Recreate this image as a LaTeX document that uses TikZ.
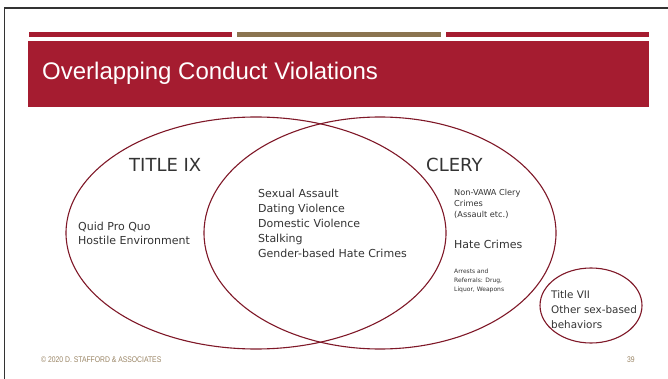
\documentclass[tikz,border=0pt]{standalone}
\usepackage{fontspec}
\setmainfont{DejaVu Sans}
\newfontfamily\headfont{Liberation Sans}
\usepackage{tikz}
\usetikzlibrary{shapes.geometric}
\definecolor{crimson}{HTML}{A51C30}
\definecolor{tanbar}{HTML}{8B7450}
\definecolor{ringred}{HTML}{7F1828}
\definecolor{inkgray}{HTML}{333333}
\definecolor{foottan}{HTML}{9A8565}
\tikzset{
  ring/.style={draw=ringred, line width=1.1pt, ellipse, inner sep=0pt},
  lbl/.style={anchor=base west, inner sep=0pt, text=inkgray, align=left},
}

\begin{document}
\begin{tikzpicture}[x=1pt, y=-1pt]
    \useasboundingbox (0,0) rectangle (668,379);
    % frame and header
    \draw [draw=black!80, line width=1.5pt] (4.5,379) -- (4.5,8) -- (668,8);
    \fill [crimson] (29,32) rectangle (232,37);
    \fill [tanbar] (237,32) rectangle (441,37);
    \fill [crimson] (446,32) rectangle (649,37);
    \fill [crimson] (28,41) rectangle (649,107);
    \node [anchor=base west, inner sep=0pt, text=white] (head) at (42,80)
        {\headfont\fontsize{24}{28}\selectfont Overlapping Conduct Violations};

    % the three circles
    \node [ring, minimum width=380pt, minimum height=232pt] (t9) at (256,233) {};
    \node [ring, minimum width=352pt, minimum height=232pt] (clery) at (380,233) {};
    \node [ring, minimum width=102pt, minimum height=75pt] (t7) at (591,305.5) {};

    \node [lbl, font=\fontsize{18}{22}\selectfont] (t9name) at (129,172) {TITLE IX};
    \node [lbl, font=\fontsize{18}{22}\selectfont] (clname) at (426,172) {CLERY};

    % multi-line labels sit on the baseline of their last line
    \node [lbl, font=\fontsize{11}{14}\selectfont] (quid) at (78,244)
        {Quid Pro Quo\\Hostile Environment};
    \node [lbl, font=\fontsize{11}{15}\selectfont] (vawa) at (258,257)
        {Sexual Assault\\Dating Violence\\Domestic Violence\\Stalking\\Gender-based Hate Crimes};
    \node [lbl, font=\fontsize{8.2}{11}\selectfont] (nonvawa) at (454,218)
        {Non-VAWA Clery\\Crimes\\(Assault etc.)};
    \node [lbl, font=\fontsize{11}{14}\selectfont] (hate) at (454,248) {Hate Crimes};
    \node [lbl, font=\fontsize{6}{9}\selectfont] (arrests) at (454,291)
        {Arrests and\\Referrals: Drug,\\Liquor, Weapons};
    \node [lbl, font=\fontsize{10.4}{15}\selectfont] (t7text) at (551,328)
        {Title VII\\Other sex-based\\behaviors};

    % footer
    \node [anchor=base west, inner sep=0pt, text=foottan] (foot) at (41,362)
        {\headfont\fontsize{8.2}{10}\selectfont\scalebox{0.83}[1]{\textcopyright{} 2020 D. STAFFORD \& ASSOCIATES}};
    \node [anchor=base west, inner sep=0pt, text=foottan] (page) at (627,362)
        {\headfont\fontsize{8.2}{10}\selectfont\scalebox{0.83}[1]{39}};
\end{tikzpicture}
\end{document}
